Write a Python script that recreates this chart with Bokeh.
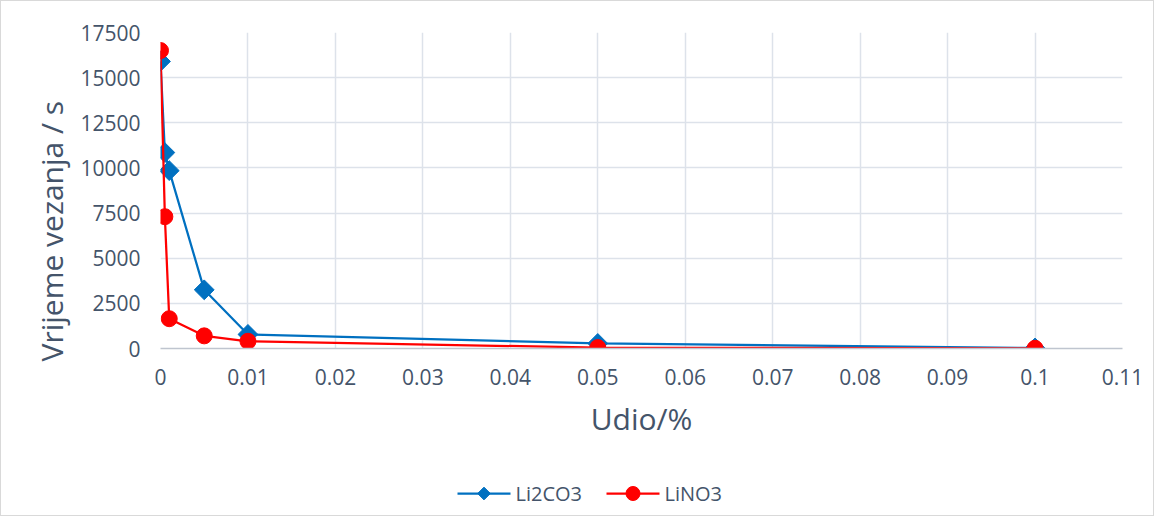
import math
from bokeh.plotting import figure
from bokeh.layouts import column
from bokeh.core.properties import value
from bokeh.models import (FixedTicker, CustomJSTickFormatter, Title, Range1d)
from bokeh.embed import file_html
from bokeh.resources import INLINE

# data
udio = [0, 0.0005, 0.001, 0.005, 0.01, 0.05, 0.1]
li2co3 = [15900, 10850, 9850, 3250, 780, 280, 30]
lino3 = [16500, 7300, 1650, 700, 400, 50, 10]
x_ticks = [0, 0.01, 0.02, 0.03, 0.04, 0.05, 0.06, 0.07, 0.08, 0.09, 0.1, 0.11]
y_ticks = [0, 2500, 5000, 7500, 10000, 12500, 15000, 17500]
series_names = ["Li2CO3", "LiNO3"]

FONT = "Open Sans"
TXT = "#44546A"
BLUE = "#0070C0"
RED = "#FF0000"

p = figure(width=1152, height=460, output_backend="svg", toolbar_location=None,
           x_range=Range1d(0, 0.11), y_range=Range1d(0, 17500),
           min_border_left=159, min_border_right=31, min_border_top=31, min_border_bottom=113)
p.outline_line_color = None
p.background_fill_color = "white"
p.border_fill_color = "white"

p.xaxis.ticker = FixedTicker(ticks=x_ticks)
p.yaxis.ticker = FixedTicker(ticks=y_ticks)
p.xaxis.formatter = CustomJSTickFormatter(code="return String(+tick.toFixed(2));")
p.yaxis.formatter = CustomJSTickFormatter(code="return String(Math.round(tick));")

for ax in (p.xaxis, p.yaxis):
    ax.major_tick_line_color = None
    ax.minor_tick_line_color = None
    ax.major_label_text_font = FONT
    ax.major_label_text_font_size = "21px"
    ax.major_label_text_color = TXT
    ax.major_label_standoff = 14
p.yaxis.axis_line_color = None
p.xaxis.axis_line_color = "#bfc5cf"
p.xaxis.axis_line_width = 1.5

p.xaxis.axis_label = "Udio/%"
p.xaxis.axis_label_text_font = FONT
p.xaxis.axis_label_text_font_size = "30px"
p.xaxis.axis_label_text_font_style = "normal"
p.xaxis.axis_label_text_color = TXT
p.xaxis.axis_label_standoff = 10

p.xgrid.grid_line_color = "#dde2ea"
p.ygrid.grid_line_color = "#dde2ea"
p.xgrid.grid_line_width = 1.5
p.ygrid.grid_line_width = 1.5

ytitle = Title(text="Vrijeme vezanja / s", align="left", offset=-13,
               text_font=FONT, text_font_size="30px", text_font_style="normal",
               text_color=TXT, standoff=12)
p.add_layout(ytitle, "left")

p.line(udio, li2co3, line_color=BLUE, line_width=2.25)
p.scatter(udio, li2co3, marker="square", angle=math.pi / 4, size=14,
          fill_color=BLUE, line_color=BLUE)
p.line(udio, lino3, line_color=RED, line_width=2.25)
p.scatter(udio, lino3, marker="circle", size=16, fill_color=RED, line_color=RED)

# legend strip, drawn in a pixel-scaled frame aligned under the plot frame
q = figure(width=1152, height=54, output_backend="svg", toolbar_location=None,
           x_range=Range1d(0, 962), y_range=Range1d(0, 54),
           min_border_left=0, min_border_right=0, min_border_top=0, min_border_bottom=0)
q.axis.visible = False
q.grid.visible = False
q.outline_line_color = None
q.border_fill_color = "white"
q.background_fill_color = "white"

LEG_Y = 22
leg_x0 = [297, 446]          # left end of each legend sample line
leg_colors = [BLUE, RED]
leg_markers = ["square", "circle"]
leg_sizes = [9, 14]
leg_angles = [math.pi / 4, 0]
for i, name in enumerate(series_names):
    x0 = leg_x0[i]
    q.line([x0, x0 + 53], [LEG_Y, LEG_Y], line_color=leg_colors[i], line_width=2.25)
    q.scatter([x0 + 26.5], [LEG_Y], marker=leg_markers[i], angle=leg_angles[i],
              size=leg_sizes[i], fill_color=leg_colors[i], line_color=leg_colors[i])
    q.text([x0 + 58], [LEG_Y], text=[name], text_font=value(FONT), text_font_size="20px",
           text_color=TXT, text_baseline="middle", text_align="left")

layout = column(p, q, spacing=0)
layout.styles = {"border": "1px solid #d9d9d9"}

open("out.html", "w").write(file_html(layout, INLINE))
